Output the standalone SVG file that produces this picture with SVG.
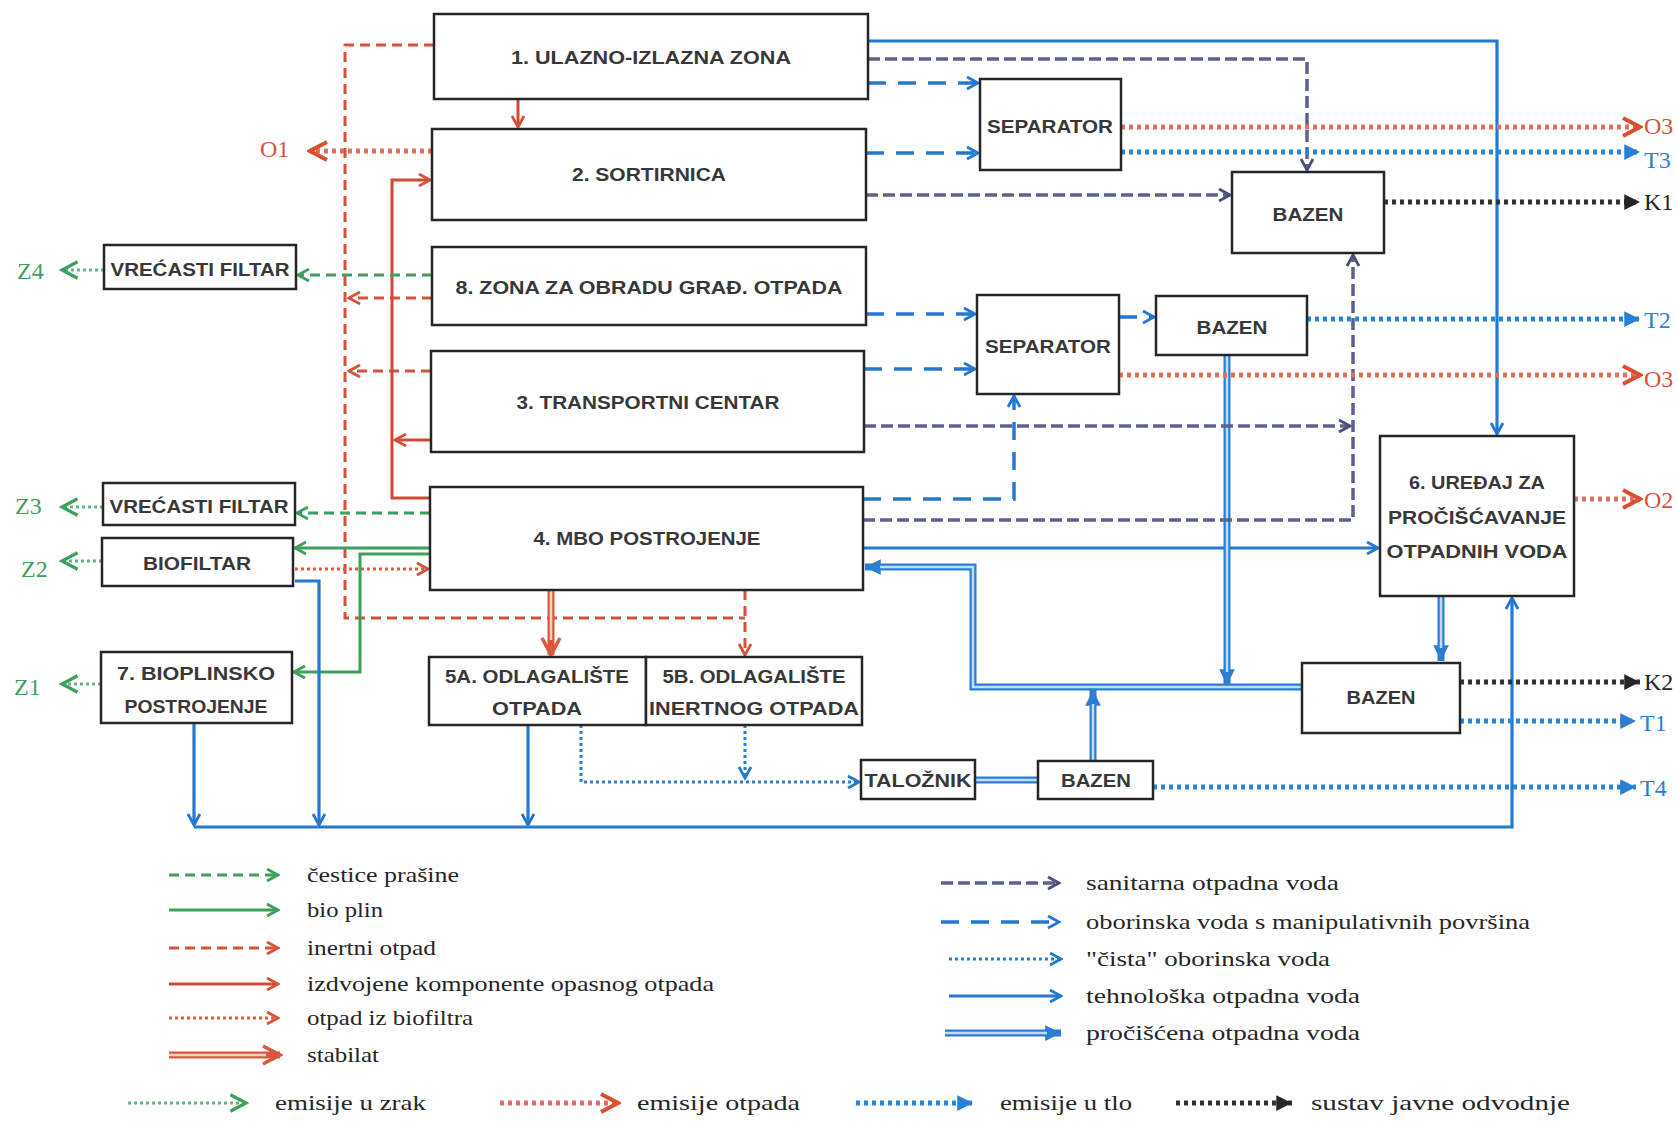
<svg xmlns="http://www.w3.org/2000/svg" width="1677" height="1127" viewBox="0 0 1677 1127">
<style>
.bg{fill:#fff}
.node rect{fill:#fff;stroke:#262626;stroke-width:2.5}
.nt{font-family:"Liberation Sans",Arial,sans-serif;font-weight:bold;font-size:18px;fill:#383838;text-anchor:middle}
.lg{font-family:"Liberation Serif","Times New Roman",serif;font-size:22px;fill:#262626}
.el{font-family:"Liberation Serif","Times New Roman",serif;font-size:24px}
g path{fill:none}
.inert{stroke:#d4533a;stroke-width:3;stroke-dasharray:10 6}
.haz{stroke:#cf4a33;stroke-width:3}
.biof{stroke:#d9603f;stroke-width:3;stroke-dasharray:3 3}
.stabO{stroke:#d8583f;stroke-width:7}
.stabI{stroke:#f6cfc3;stroke-width:2.5}
.dust{stroke:#3f9f5c;stroke-width:3;stroke-dasharray:10 6}
.gas{stroke:#3f9f5c;stroke-width:3}
.zrak{stroke:#62b882;stroke-width:3;stroke-dasharray:3 3}
.tech{stroke:#2378d0;stroke-width:3.2}
.procO{stroke:#2a7fd4;stroke-width:7}
.procI{stroke:#c3dcf5;stroke-width:2.5}
.obor{stroke:#2378d0;stroke-width:3.5;stroke-dasharray:18 12}
.san{stroke:#5e6190;stroke-width:3.5;stroke-dasharray:12 5}
.cista{stroke:#2a7fd4;stroke-width:3;stroke-dasharray:3 3}
.eo{stroke:#e3705c;stroke-width:5;stroke-dasharray:4 4}
.et{stroke:#2a86d8;stroke-width:5;stroke-dasharray:4 4}
.ek{stroke:#333;stroke-width:5;stroke-dasharray:4 4}
</style>
<defs>
<marker id="cr" viewBox="0 0 16 16" markerUnits="userSpaceOnUse" markerWidth="16" markerHeight="16" refX="14" refY="8" orient="auto"><path d="M3,2 L14,8 L3,14" fill="none" stroke="#d4533a" stroke-width="2.8"/></marker>
<marker id="cg" viewBox="0 0 16 16" markerUnits="userSpaceOnUse" markerWidth="16" markerHeight="16" refX="14" refY="8" orient="auto"><path d="M3,2 L14,8 L3,14" fill="none" stroke="#3f9f5c" stroke-width="2.8"/></marker>
<marker id="cb" viewBox="0 0 16 16" markerUnits="userSpaceOnUse" markerWidth="16" markerHeight="16" refX="14" refY="8" orient="auto"><path d="M3,2 L14,8 L3,14" fill="none" stroke="#2378d0" stroke-width="2.8"/></marker>
<marker id="cs" viewBox="0 0 16 16" markerUnits="userSpaceOnUse" markerWidth="16" markerHeight="16" refX="14" refY="8" orient="auto"><path d="M3,2 L14,8 L3,14" fill="none" stroke="#4b4f80" stroke-width="2.8"/></marker>
<marker id="bigr" viewBox="0 0 24 24" markerUnits="userSpaceOnUse" markerWidth="24" markerHeight="24" refX="21" refY="12" orient="auto"><path d="M4,3 L21,12 L4,21" fill="none" stroke="#d9502f" stroke-width="4"/></marker>
<marker id="bigg" viewBox="0 0 24 24" markerUnits="userSpaceOnUse" markerWidth="22" markerHeight="22" refX="21" refY="12" orient="auto"><path d="M4,3 L21,12 L4,21" fill="none" stroke="#3f9f5c" stroke-width="3.5"/></marker>
<marker id="stb" viewBox="0 0 24 24" markerUnits="userSpaceOnUse" markerWidth="24" markerHeight="24" refX="21" refY="12" orient="auto"><path d="M4,3 L21,12 L4,21" fill="none" stroke="#d8583f" stroke-width="3.5"/></marker>
<marker id="tb" viewBox="0 0 16 16" markerUnits="userSpaceOnUse" markerWidth="18" markerHeight="18" refX="15" refY="8" orient="auto"><path d="M1,1 L15,8 L1,15 Z" fill="#2a7fd4" stroke="none"/></marker>
<marker id="tk" viewBox="0 0 16 16" markerUnits="userSpaceOnUse" markerWidth="18" markerHeight="18" refX="15" refY="8" orient="auto"><path d="M1,1 L15,8 L1,15 Z" fill="#262626" stroke="none"/></marker>
</defs>
<rect class="bg" x="0" y="0" width="1677" height="1127"/>

<g id="connectors">
<path class="inert" d="M434,45 H345 V618 H745"/>
<path class="inert" d="M745,590 V655" marker-end="url(#cr)"/>
<path class="inert" d="M432,298 H349" marker-end="url(#cr)"/>
<path class="inert" d="M431,371 H349" marker-end="url(#cr)"/>
<path class="haz" d="M518,99 V127" marker-end="url(#cr)"/>
<path class="haz" d="M430,498 H392 V180 H430" marker-end="url(#cr)"/>
<path class="haz" d="M431,440 H395" marker-end="url(#cr)"/>
<path class="stabO" d="M551,590 V655" marker-end="url(#stb)"/>
<path class="stabI" d="M551,590 V640"/>
<path class="biof" d="M295,569 H428" marker-end="url(#cr)"/>
<path class="dust" d="M432,275 H298" marker-end="url(#cg)"/>
<path class="dust" d="M430,513 H297" marker-end="url(#cg)"/>
<path class="gas" d="M430,548 H295" marker-end="url(#cg)"/>
<path class="gas" d="M430,554 H360 V672 H294" marker-end="url(#cg)"/>
<path class="zrak" d="M104,270 H62" marker-end="url(#bigg)"/>
<path class="zrak" d="M103,507 H62" marker-end="url(#bigg)"/>
<path class="zrak" d="M102,561 H62" marker-end="url(#bigg)"/>
<path class="zrak" d="M101,684 H62" marker-end="url(#bigg)"/>
<path class="tech" d="M868,41 H1497 V434" marker-end="url(#cb)"/>
<path class="tech" d="M863,548 H1378" marker-end="url(#cb)"/>
<path class="tech" d="M194,723 V825" marker-end="url(#cb)"/>
<path class="tech" d="M295,581 H319 V825" marker-end="url(#cb)"/>
<path class="tech" d="M528,725 V825" marker-end="url(#cb)"/>
<path class="tech" d="M194,827 H1512 V598" marker-end="url(#cb)"/>
<path class="procO" d="M1441,596 V661" marker-end="url(#tb)"/>
<path class="procI" d="M1441,596 V648"/>
<path class="procO" d="M1302,687 H973 V567 H865" marker-end="url(#tb)"/>
<path class="procI" d="M1302,687 H973 V567 H880"/>
<path class="procO" d="M1227,355 V685" marker-end="url(#tb)"/>
<path class="procI" d="M1227,355 V672"/>
<path class="procO" d="M1093,761 V690" marker-end="url(#tb)"/>
<path class="procI" d="M1093,761 V704"/>
<path class="procO" d="M975,780 H1038"/>
<path class="procI" d="M975,780 H1038"/>
<path class="obor" d="M868,83 H978" marker-end="url(#cb)"/>
<path class="obor" d="M866,153 H978" marker-end="url(#cb)"/>
<path class="obor" d="M866,314 H975" marker-end="url(#cb)"/>
<path class="obor" d="M864,369 H975" marker-end="url(#cb)"/>
<path class="obor" d="M863,499 H1014 V396" marker-end="url(#cb)"/>
<path class="obor" d="M1119,317 H1154" marker-end="url(#cb)"/>
<path class="san" d="M868,59 H1307 V170" marker-end="url(#cs)"/>
<path class="san" d="M866,195 H1230" marker-end="url(#cs)"/>
<path class="san" d="M864,426 H1350" marker-end="url(#cs)"/>
<path class="san" d="M863,520 H1353 V255" marker-end="url(#cs)"/>
<path class="cista" d="M581,725 V782 H859" marker-end="url(#cb)"/>
<path class="cista" d="M745,725 V778" marker-end="url(#cb)"/>
<path class="eo" d="M432,151 H310" marker-end="url(#bigr)"/>
<path class="eo" d="M1121,127 H1640" marker-end="url(#bigr)"/>
<path class="eo" d="M1119,375 H1640" marker-end="url(#bigr)"/>
<path class="eo" d="M1574,499 H1640" marker-end="url(#bigr)"/>
<path class="et" d="M1121,152 H1640" marker-end="url(#tb)"/>
<path class="et" d="M1307,319 H1640" marker-end="url(#tb)"/>
<path class="et" d="M1460,721 H1636" marker-end="url(#tb)"/>
<path class="et" d="M1153,787 H1636" marker-end="url(#tb)"/>
<path class="ek" d="M1384,202 H1640" marker-end="url(#tk)"/>
<path class="ek" d="M1460,682 H1640" marker-end="url(#tk)"/>
</g>

<g id="n1" class="node"><rect x="434" y="14" width="434" height="85"/><text class="nt" x="651" y="64" textLength="280" lengthAdjust="spacingAndGlyphs">1. ULAZNO-IZLAZNA ZONA</text></g>
<g id="n2" class="node"><rect x="432" y="129" width="434" height="91"/><text class="nt" x="649" y="181" textLength="154" lengthAdjust="spacingAndGlyphs">2. SORTIRNICA</text></g>
<g id="n8" class="node"><rect x="432" y="247" width="434" height="78"/><text class="nt" x="649" y="294" textLength="387" lengthAdjust="spacingAndGlyphs">8. ZONA ZA OBRADU GRAĐ. OTPADA</text></g>
<g id="n3" class="node"><rect x="431" y="351" width="433" height="101"/><text class="nt" x="648" y="409" textLength="263" lengthAdjust="spacingAndGlyphs">3. TRANSPORTNI CENTAR</text></g>
<g id="n4" class="node"><rect x="430" y="487" width="433" height="103"/><text class="nt" x="647" y="545" textLength="227" lengthAdjust="spacingAndGlyphs">4. MBO POSTROJENJE</text></g>
<g id="sep1" class="node"><rect x="980" y="79" width="141" height="91"/><text class="nt" x="1050" y="133" textLength="126" lengthAdjust="spacingAndGlyphs">SEPARATOR</text></g>
<g id="baz1" class="node"><rect x="1232" y="172" width="152" height="81"/><text class="nt" x="1308" y="221" textLength="71" lengthAdjust="spacingAndGlyphs">BAZEN</text></g>
<g id="sep2" class="node"><rect x="977" y="295" width="142" height="99"/><text class="nt" x="1048" y="353" textLength="126" lengthAdjust="spacingAndGlyphs">SEPARATOR</text></g>
<g id="baz2" class="node"><rect x="1156" y="296" width="151" height="59"/><text class="nt" x="1232" y="334" textLength="71" lengthAdjust="spacingAndGlyphs">BAZEN</text></g>
<g id="n6" class="node"><rect x="1380" y="436" width="194" height="160"/><text class="nt" x="1477" y="489" textLength="136" lengthAdjust="spacingAndGlyphs">6. UREĐAJ ZA</text><text class="nt" x="1477" y="524" textLength="178" lengthAdjust="spacingAndGlyphs">PROČIŠĆAVANJE</text><text class="nt" x="1477" y="558" textLength="181" lengthAdjust="spacingAndGlyphs">OTPADNIH VODA</text></g>
<g id="baz3" class="node"><rect x="1302" y="663" width="158" height="70"/><text class="nt" x="1381" y="704" textLength="69" lengthAdjust="spacingAndGlyphs">BAZEN</text></g>
<g id="vf1" class="node"><rect x="104" y="245" width="192" height="44"/><text class="nt" x="200" y="276" textLength="179" lengthAdjust="spacingAndGlyphs">VREĆASTI FILTAR</text></g>
<g id="vf2" class="node"><rect x="103" y="483" width="192" height="42"/><text class="nt" x="199" y="513" textLength="179" lengthAdjust="spacingAndGlyphs">VREĆASTI FILTAR</text></g>
<g id="bio" class="node"><rect x="102" y="538" width="191" height="48"/><text class="nt" x="197" y="570" textLength="108" lengthAdjust="spacingAndGlyphs">BIOFILTAR</text></g>
<g id="n7" class="node"><rect x="101" y="652" width="191" height="71"/><text class="nt" x="196" y="680" textLength="158" lengthAdjust="spacingAndGlyphs">7. BIOPLINSKO</text><text class="nt" x="196" y="713" textLength="143" lengthAdjust="spacingAndGlyphs">POSTROJENJE</text></g>
<g id="n5a" class="node"><rect x="429" y="657" width="217" height="68"/><text class="nt" x="537" y="683" textLength="184" lengthAdjust="spacingAndGlyphs">5A. ODLAGALIŠTE</text><text class="nt" x="537" y="715" textLength="90" lengthAdjust="spacingAndGlyphs">OTPADA</text></g>
<g id="n5b" class="node"><rect x="646" y="657" width="216" height="68"/><text class="nt" x="754" y="683" textLength="183" lengthAdjust="spacingAndGlyphs">5B. ODLAGALIŠTE</text><text class="nt" x="754" y="715" textLength="210" lengthAdjust="spacingAndGlyphs">INERTNOG OTPADA</text></g>
<g id="tal" class="node"><rect x="861" y="760" width="114" height="39"/><text class="nt" x="918" y="787" textLength="107" lengthAdjust="spacingAndGlyphs">TALOŽNIK</text></g>
<g id="baz4" class="node"><rect x="1038" y="761" width="115" height="38"/><text class="nt" x="1096" y="787" textLength="70" lengthAdjust="spacingAndGlyphs">BAZEN</text></g>

<g id="edge-labels">
<text class="el" x="260" y="157" fill="#d4533a">O1</text>
<text class="el" x="17" y="279" fill="#3f9f5c">Z4</text>
<text class="el" x="15" y="514" fill="#3f9f5c">Z3</text>
<text class="el" x="21" y="577" fill="#3f9f5c">Z2</text>
<text class="el" x="14" y="695" fill="#3f9f5c">Z1</text>
<text class="el" x="1644" y="134" fill="#d4533a">O3</text>
<text class="el" x="1644" y="168" fill="#2a7fd4">T3</text>
<text class="el" x="1644" y="210" fill="#262626">K1</text>
<text class="el" x="1644" y="328" fill="#2a7fd4">T2</text>
<text class="el" x="1644" y="387" fill="#d4533a">O3</text>
<text class="el" x="1644" y="508" fill="#d4533a">O2</text>
<text class="el" x="1644" y="690" fill="#262626">K2</text>
<text class="el" x="1640" y="731" fill="#2a7fd4">T1</text>
<text class="el" x="1640" y="796" fill="#2a7fd4">T4</text>
</g>

<g id="legend">
<path class="dust" d="M169,875 H278" marker-end="url(#cg)"/>
<text class="lg" x="307" y="882" textLength="152" lengthAdjust="spacingAndGlyphs">čestice prašine</text>
<path class="gas" d="M169,910 H278" marker-end="url(#cg)"/>
<text class="lg" x="307" y="917" textLength="76" lengthAdjust="spacingAndGlyphs">bio plin</text>
<path class="inert" d="M169,948 H278" marker-end="url(#cr)"/>
<text class="lg" x="307" y="955" textLength="129" lengthAdjust="spacingAndGlyphs">inertni otpad</text>
<path class="haz" d="M169,984 H278" marker-end="url(#cr)"/>
<text class="lg" x="307" y="991" textLength="407" lengthAdjust="spacingAndGlyphs">izdvojene komponente opasnog otpada</text>
<path class="biof" d="M169,1018 H278" marker-end="url(#cr)"/>
<text class="lg" x="307" y="1025" textLength="166" lengthAdjust="spacingAndGlyphs">otpad iz biofiltra</text>
<path class="stabO" d="M169,1055 H280" marker-end="url(#stb)"/>
<path class="stabI" d="M169,1055 H266"/>
<text class="lg" x="307" y="1062" textLength="72" lengthAdjust="spacingAndGlyphs">stabilat</text>

<path class="san" d="M941,883 H1059" marker-end="url(#cs)"/>
<text class="lg" x="1086" y="890" textLength="253" lengthAdjust="spacingAndGlyphs">sanitarna otpadna voda</text>
<path class="obor" d="M941,922 H1059" marker-end="url(#cb)"/>
<text class="lg" x="1086" y="929" textLength="444" lengthAdjust="spacingAndGlyphs">oborinska voda s manipulativnih površina</text>
<path class="cista" d="M949,959 H1061" marker-end="url(#cb)"/>
<text class="lg" x="1086" y="966" textLength="244" lengthAdjust="spacingAndGlyphs">"čista" oborinska voda</text>
<path class="tech" d="M949,996 H1061" marker-end="url(#cb)"/>
<text class="lg" x="1086" y="1003" textLength="274" lengthAdjust="spacingAndGlyphs">tehnološka otpadna voda</text>
<path class="procO" d="M945,1033 H1061" marker-end="url(#tb)"/>
<path class="procI" d="M945,1033 H1047"/>
<text class="lg" x="1086" y="1040" textLength="274" lengthAdjust="spacingAndGlyphs">pročišćena otpadna voda</text>

<path class="zrak" d="M128,1103 H246" marker-end="url(#bigg)"/>
<text class="lg" x="275" y="1110" textLength="151" lengthAdjust="spacingAndGlyphs">emisije u zrak</text>
<path class="eo" d="M500,1103 H618" marker-end="url(#bigr)"/>
<text class="lg" x="637" y="1110" textLength="163" lengthAdjust="spacingAndGlyphs">emisije otpada</text>
<path class="et" d="M856,1103 H973" marker-end="url(#tb)"/>
<text class="lg" x="1000" y="1110" textLength="132" lengthAdjust="spacingAndGlyphs">emisije u tlo</text>
<path class="ek" d="M1176,1103 H1292" marker-end="url(#tk)"/>
<text class="lg" x="1311" y="1110" textLength="259" lengthAdjust="spacingAndGlyphs">sustav javne odvodnje</text>
</g>
</svg>
